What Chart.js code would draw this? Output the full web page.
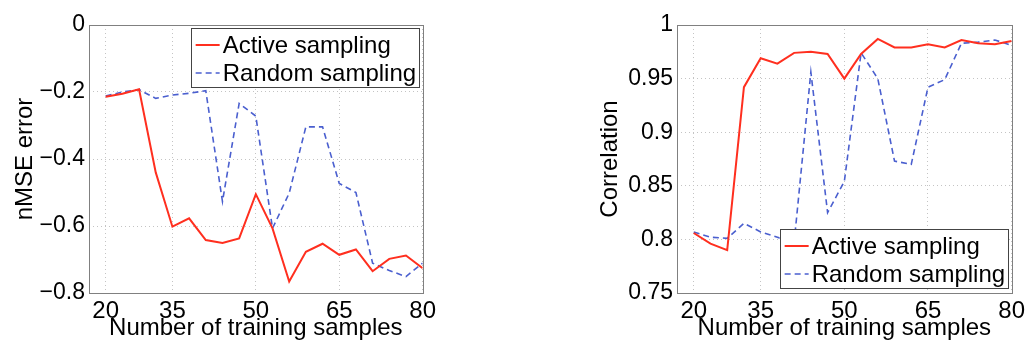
<!DOCTYPE html>
<html>
<head>
<meta charset="utf-8">
<script src="https://cdn.jsdelivr.net/npm/chart.js@4.4.0/dist/chart.umd.min.js"></script>
<style>
  body { margin: 0; background: #fff; width: 1029px; height: 343px; position: relative; overflow: hidden; }
  canvas { position: absolute; top: 0; }
</style>
</head>
<body>
<canvas id="errChart" width="440" height="343" style="left:0"></canvas>
<canvas id="corrChart" width="469" height="343" style="left:560px"></canvas>
<script>
// Number of training samples (first point sits on the tick labelled "20")
const samples = [23, 26, 29, 32, 35, 38, 41, 44, 47, 50, 53, 56, 59, 62, 65, 68, 71, 74, 77, 80];
const xTicks = [23, 35, 50, 65, 80];
const xTickLabels = ['20', '35', '50', '65', '80'];

const errActive = [-0.214, -0.205, -0.192, -0.44, -0.602, -0.577, -0.642, -0.651, -0.637, -0.505,
  -0.607, -0.766, -0.677, -0.653, -0.686, -0.670, -0.735, -0.698, -0.688, -0.726];
const errRandom = [-0.212, -0.200, -0.193, -0.219, -0.209, -0.204, -0.196, -0.527, -0.234, -0.272,
  -0.607, -0.502, -0.304, -0.304, -0.473, -0.500, -0.711, -0.733, -0.751, -0.711];
const errTicks = [-0.8, -0.6, -0.4, -0.2, 0];
const errTickLabels = ['\u22120.8', '\u22120.6', '\u22120.4', '\u22120.2', '0'];

const corrActive = [0.806, 0.796, 0.790, 0.942, 0.969, 0.964, 0.974, 0.975, 0.973, 0.950,
  0.973, 0.987, 0.979, 0.979, 0.982, 0.979, 0.986, 0.983, 0.982, 0.985];
const corrRandom = [0.807, 0.802, 0.801, 0.815, 0.807, 0.802, 0.797, 0.956, 0.825, 0.854,
  0.974, 0.950, 0.873, 0.870, 0.942, 0.949, 0.983, 0.984, 0.986, 0.981];
const corrTicks = [0.75, 0.8, 0.85, 0.9, 0.95, 1];
const corrTickLabels = ['0.75', '0.8', '0.85', '0.9', '0.95', '1'];

const COLORS = {
  active: '#ff2f1f',
  random: '#4a5fcf',
  grid: '#c4c4c4',
  frame: '#808080',
  text: '#000',
};
const FONT = 'Liberation Sans, Arial, Helvetica, sans-serif';

// box around the plot area plus a matlab-style legend drawn inside it
const framePlugin = {
  id: 'frame',
  afterDatasetsDraw(chart, args, opts) {
    const { ctx, chartArea: a } = chart;
    ctx.save();
    ctx.strokeStyle = COLORS.frame;
    ctx.lineWidth = 1;
    ctx.strokeRect(Math.round(a.left) + 0.5, Math.round(a.top) + 0.5,
      Math.round(a.right - a.left), Math.round(a.bottom - a.top));

    const w = 228, h = 59;
    const bx = a.right - 4 - w;
    const by = opts.corner === 'top' ? a.top + 3 : a.bottom - 5 - h;
    ctx.fillStyle = '#fff';
    ctx.fillRect(bx, by, w, h);
    ctx.strokeStyle = '#444';
    ctx.strokeRect(Math.round(bx) + 0.5, Math.round(by) + 0.5, w, h);

    ctx.font = '24px ' + FONT;
    ctx.textBaseline = 'middle';
    ctx.fillStyle = COLORS.text;
    chart.data.datasets.forEach((ds, i) => {
      const y = by + 17 + i * 28;
      ctx.beginPath();
      ctx.strokeStyle = ds.borderColor;
      ctx.lineWidth = ds.borderWidth;
      ctx.setLineDash(ds.borderDash || []);
      ctx.moveTo(bx + 5, y);
      ctx.lineTo(bx + 29, y);
      ctx.stroke();
      ctx.setLineDash([]);
      ctx.fillText(ds.label, bx + 32, y + 1);
    });
    ctx.restore();
  },
};

function makeChart(canvasId, active, random, yTicks, yLabels, yTitle, yWidth, padRight, titlePad, corner) {
  const ctx = document.getElementById(canvasId).getContext('2d');
  return new Chart(ctx, {
    type: 'line',
    data: {
      datasets: [
        {
          label: 'Active sampling',
          data: active.map((v, i) => ({ x: samples[i], y: v })),
          borderColor: COLORS.active,
          borderWidth: 2,
          pointRadius: 0,
          tension: 0,
        },
        {
          label: 'Random sampling',
          data: random.map((v, i) => ({ x: samples[i], y: v })),
          borderColor: COLORS.random,
          borderWidth: 1.6,
          borderDash: [6, 4],
          pointRadius: 0,
          tension: 0,
        },
      ],
    },
    options: {
      responsive: false,
      animation: false,
      layout: { padding: { top: 25, right: padRight, left: 0, bottom: 0 } },
      plugins: {
        legend: { display: false },
        tooltip: { enabled: false },
        frame: { corner: corner },
      },
      scales: {
        x: {
          type: 'linear',
          min: 20,
          max: 80,
          afterBuildTicks: (s) => { s.ticks = xTicks.map((v) => ({ value: v })); },
          afterFit: (s) => { s.height = 50; },
          grid: { color: COLORS.grid, drawTicks: false },
          border: { display: false, dash: [1, 3] },
          ticks: {
            color: COLORS.text,
            font: { family: FONT, size: 24 },
            padding: 4,
            autoSkip: false,
            maxRotation: 0,
            callback: (v, i) => xTickLabels[i],
          },
          title: {
            display: true,
            text: 'Number of training samples',
            color: COLORS.text,
            font: { family: FONT, size: 24 },
            padding: { top: 0, bottom: 0 },
          },
        },
        y: {
          type: 'linear',
          min: yTicks[0],
          max: yTicks[yTicks.length - 1],
          afterBuildTicks: (s) => { s.ticks = yTicks.map((v) => ({ value: v })); },
          afterFit: (s) => { s.width = yWidth; },
          grid: { color: COLORS.grid, drawTicks: false },
          border: { display: false, dash: [1, 3] },
          ticks: {
            color: COLORS.text,
            font: { family: FONT, size: 23 },
            padding: 4,
            callback: (v, i) => yLabels[i],
          },
          title: {
            display: true,
            text: yTitle,
            color: COLORS.text,
            font: { family: FONT, size: 24 },
            padding: { top: titlePad, bottom: 0 },
          },
        },
      },
    },
    plugins: [framePlugin],
  });
}

makeChart('errChart', errActive, errRandom, errTicks, errTickLabels, 'nMSE error', 89, 15, 11, 'top');
makeChart('corrChart', corrActive, corrRandom, corrTicks, corrTickLabels, 'Correlation', 117, 14, 36, 'bottom');
</script>
</body>
</html>
